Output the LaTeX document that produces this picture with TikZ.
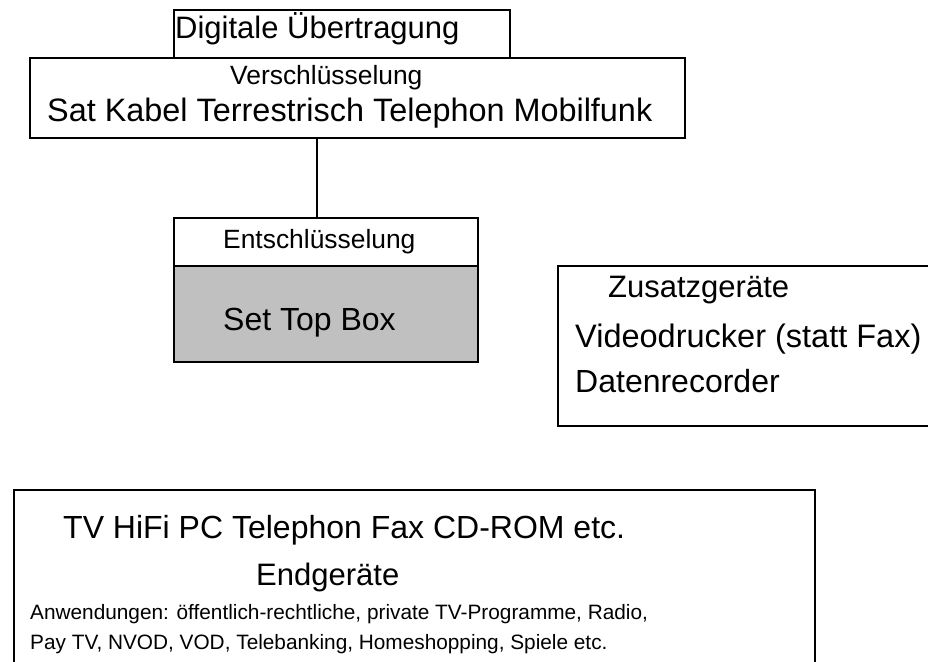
\documentclass[tikz,border=0pt]{standalone}
\usepackage{fontspec}
\setmainfont{Liberation Sans}
\definecolor{stbgray}{HTML}{C0C0C0}
\begin{document}
\begin{tikzpicture}[x=1pt,y=-1pt,
  box/.style={draw=black,line width=1.8pt,fill=white,inner sep=0pt,anchor=north west},
  lbl/.style={anchor=base west,inner sep=0pt,text=black},
  big/.style={font=\fontsize{32}{38}\selectfont},
  mid/.style={font=\fontsize{26.4}{31}\selectfont},
  small/.style={font=\fontsize{20.8}{25}\selectfont},
  conn/.style={draw=black,line width=1.8pt}]
\useasboundingbox (0,0) rectangle (928,661);
\clip (0,0) rectangle (928,661);
% boxes
\node[box,minimum width=336pt,minimum height=48pt] (digbox) at (173,9) {};
\node[box,minimum width=655pt,minimum height=80pt] (verbox) at (29,57) {};
\node[box,minimum width=304pt,minimum height=48pt] (stbtop) at (173,217) {};
\node[box,fill=stbgray,minimum width=304pt,minimum height=96pt] (stbbot) at (173,265) {};
\node[box,minimum width=393pt,minimum height=160pt] (zusbox) at (557,265) {};
\node[box,minimum width=801pt,minimum height=211pt] (endbox) at (13,489) {};
% connector
\coordinate (lx) at (317,0);
\draw[conn] (verbox.south -| lx) -- (stbtop.north -| lx);
% texts
\node[lbl,font=\fontsize{31}{37}\selectfont] (tdig) at (175,39) {Digitale Übertragung};
\node[lbl,mid] (tver) at (230,84) {Verschlüsselung};
\node[lbl,font=\fontsize{32.4}{38}\selectfont] (tsat) at (47,121) {Sat Kabel Terrestrisch Telephon Mobilfunk};
\node[lbl,mid] (tent) at (223,248) {Entschlüsselung};
\node[lbl,big] (tstb) at (223,330) {Set Top Box};
\node[lbl,font=\fontsize{31}{37}\selectfont] (tzus) at (608,297) {Zusatzgeräte};
\node[lbl,font=\fontsize{32.5}{38}\selectfont] (tvid) at (575,347) {Videodrucker (statt Fax)};
\node[lbl,big] (tdat) at (575,392) {Datenrecorder};
\node[lbl,big] (ttv) at (63,538) {TV HiFi PC Telephon Fax CD-ROM etc.};
\node[lbl,font=\fontsize{31}{37}\selectfont] (tend) at (256,585) {Endgeräte};
\node[lbl,small] (tanw) at (30,619) {Anwendungen: öffentlich-rechtliche, private TV-Programme, Radio,};
\node[lbl,small] (tpay) at (30,649) {Pay TV, NVOD, VOD, Telebanking, Homeshopping, Spiele etc.};
\end{tikzpicture}
\end{document}
